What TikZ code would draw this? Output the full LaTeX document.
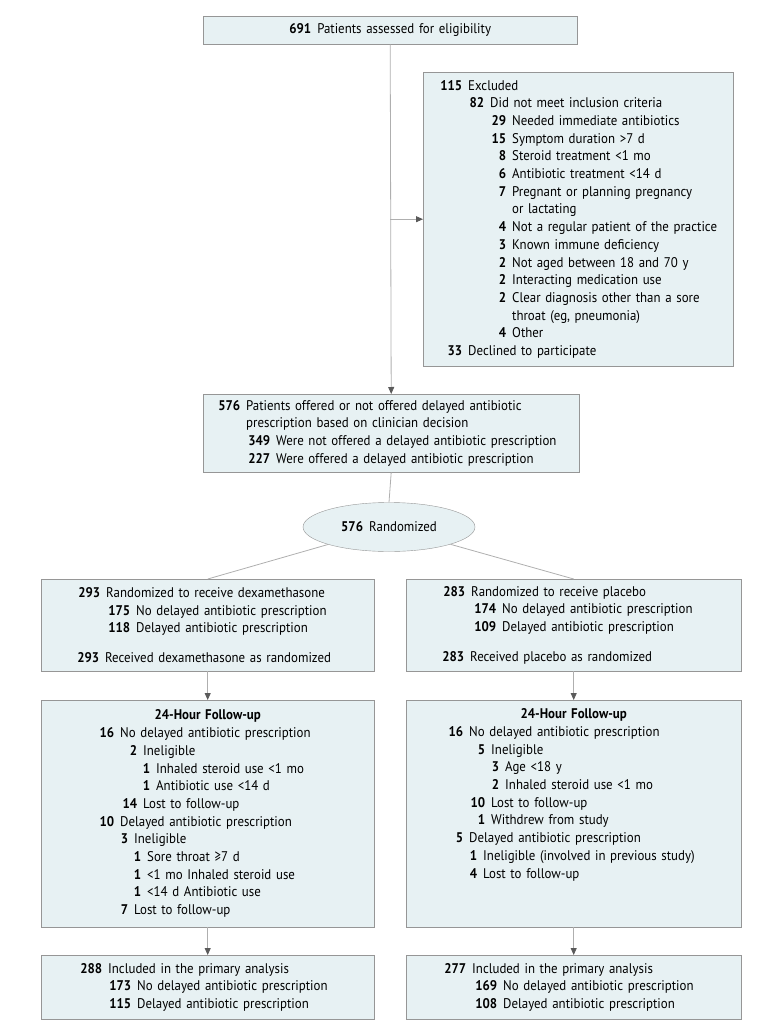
\documentclass[tikz,border=0pt]{standalone}
\usepackage{fontspec}
\setmainfont{PT Sans}[FakeStretch=0.92]
\usetikzlibrary{shapes.geometric,arrows.meta}
\definecolor{boxfill}{RGB}{231,241,243}
\definecolor{boxline}{RGB}{150,150,150}
\definecolor{linegray}{RGB}{175,175,175}
\definecolor{tipgray}{RGB}{90,90,90}
\newcommand\fnum[3]{\makebox[#1pt][r]{\bfseries #2}\hspace{6pt}#3}
\newcommand\fcont[2]{\hspace*{#1pt}\hspace{6pt}#2}

\begin{document}
\begin{tikzpicture}[x=1pt,y=-1pt,
            font=\fontsize{14}{17.7}\selectfont,
            box/.style = {draw=boxline, fill=boxfill, anchor=north west,
                          inner xsep=0pt, inner ysep=0pt, align=left},
            conn/.style = {draw=linegray, line width=0.8pt},
            arr/.style = {conn, -{Triangle[length=7pt,width=6pt,color=tipgray]}}]
    \useasboundingbox (0,0) rectangle (780,1032);
    \node[box, text width=374pt, minimum height=28pt, align=center] (elig) at (203,16)
        {\textbf{691}\hspace{6pt}Patients assessed for eligibility};
    \node[box, text width=310pt, minimum height=294pt] (excl) at (423,72)
        {\fnum{39}{115}{Excluded}\\
         \fnum{61}{82}{Did not meet inclusion criteria}\\
         \fnum{83}{29}{Needed immediate antibiotics}\\
         \fnum{83}{15}{Symptom duration >7 d}\\
         \fnum{83}{8}{Steroid treatment <1 mo}\\
         \fnum{83}{6}{Antibiotic treatment <14 d}\\
         \fnum{83}{7}{Pregnant or planning pregnancy}\\
         \fcont{83}{or lactating}\\
         \fnum{83}{4}{Not a regular patient of the practice}\\
         \fnum{83}{3}{Known immune deficiency}\\
         \fnum{83}{2}{Not aged between 18 and 70 y}\\
         \fnum{83}{2}{Interacting medication use}\\
         \fnum{83}{2}{Clear diagnosis other than a sore}\\
         \fcont{83}{throat (eg, pneumonia)}\\
         \fnum{83}{4}{Other}\\
         \fnum{39}{33}{Declined to participate}};
    \node[box, text width=376pt, minimum height=78pt] (offer) at (203,394)
        {\fnum{37}{576}{Patients offered or not offered delayed antibiotic}\\
         \fcont{37}{prescription based on clinician decision}\\
         \fnum{67}{349}{Were not offered a delayed antibiotic prescription}\\
         \fnum{67}{227}{Were offered a delayed antibiotic prescription}};
    \node[ellipse, draw=boxline, fill=boxfill, minimum width=172pt, minimum height=49pt,
          inner sep=0pt] (rand) at (389,527) {\textbf{576}\hspace{6pt}Randomized};
    \node[box, text width=333pt, minimum height=92pt] (dexa) at (41,579)
        {\fnum{59}{293}{Randomized to receive dexamethasone}\\
         \fnum{89}{175}{No delayed antibiotic prescription}\\
         \fnum{89}{118}{Delayed antibiotic prescription}\\[12pt]
         \fnum{58}{293}{Received dexamethasone as randomized}};
    \node[box, text width=335pt, minimum height=92pt] (plac) at (406,579)
        {\fnum{59}{283}{Randomized to receive placebo}\\
         \fnum{90}{174}{No delayed antibiotic prescription}\\
         \fnum{90}{109}{Delayed antibiotic prescription}\\[12pt]
         \fnum{58}{283}{Received placebo as randomized}};
    \node[box, text width=333pt, minimum height=227pt] (dexafu) at (41,700)
        {\makebox[333pt]{\bfseries 24-Hour Follow-up}\\
         \fnum{73}{16}{No delayed antibiotic prescription}\\
         \fnum{96}{2}{Ineligible}\\
         \fnum{109}{1}{Inhaled steroid use <1 mo}\\
         \fnum{109}{1}{Antibiotic use <14 d}\\
         \fnum{96}{14}{Lost to follow-up}\\
         \fnum{73}{10}{Delayed antibiotic prescription}\\
         \fnum{87}{3}{Ineligible}\\
         \fnum{100}{1}{Sore throat ≥7 d}\\
         \fnum{100}{1}{<1 mo Inhaled steroid use}\\
         \fnum{100}{1}{<14 d Antibiotic use}\\
         \fnum{87}{7}{Lost to follow-up}};
    \node[box, text width=335pt, minimum height=227pt] (placfu) at (406,700)
        {\makebox[335pt]{\bfseries 24-Hour Follow-up}\\
         \fnum{57}{16}{No delayed antibiotic prescription}\\
         \fnum{79}{5}{Ineligible}\\
         \fnum{93}{3}{Age <18 y}\\
         \fnum{93}{2}{Inhaled steroid use <1 mo}\\
         \fnum{79}{10}{Lost to follow-up}\\
         \fnum{79}{1}{Withdrew from study}\\
         \fnum{57}{5}{Delayed antibiotic prescription}\\
         \fnum{71}{1}{Ineligible (involved in previous study)}\\
         \fnum{71}{4}{Lost to follow-up}\\
         \mbox{}\\ \strut};
    \node[box, text width=333pt, minimum height=64pt] (dexaan) at (41,955)
        {\fnum{61}{288}{Included in the primary analysis}\\
         \fnum{90}{173}{No delayed antibiotic prescription}\\
         \fnum{90}{115}{Delayed antibiotic prescription}};
    \node[box, text width=335pt, minimum height=64pt] (placan) at (406,955)
        {\fnum{60}{277}{Included in the primary analysis}\\
         \fnum{91}{169}{No delayed antibiotic prescription}\\
         \fnum{91}{108}{Delayed antibiotic prescription}};
    \draw[arr] (elig.south) -- (offer.north);
    \draw[arr] (elig.south |- excl.west) -- (excl.west);
    \draw[conn] (offer.south) -- (rand.north);
    \draw[conn] (rand) -- (dexa.north);
    \draw[conn] (rand) -- (plac.north);
    \draw[arr] (dexa.south) -- (dexafu.north);
    \draw[arr] (plac.south) -- (placfu.north);
    \draw[arr] (dexafu.south) -- (dexaan.north);
    \draw[arr] (placfu.south) -- (placan.north);
\end{tikzpicture}
\end{document}
